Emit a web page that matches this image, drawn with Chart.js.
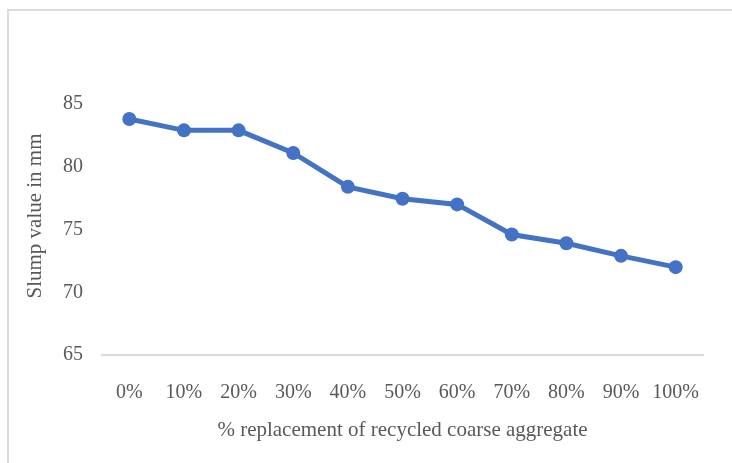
<!DOCTYPE html>
<html>
<head>
<meta charset="utf-8">
<script src="https://cdn.jsdelivr.net/npm/chart.js@4"></script>
<style>
  html, body { margin: 0; padding: 0; background: #fff; overflow: hidden; }
  #wrap { position: relative; width: 732px; height: 463px; }
  #frame { position: absolute; left: 7px; top: 9px; width: 800px; height: 500px;
           border-top: 2px solid #dcdcdc; border-left: 2px solid #dcdcdc; }
  canvas { position: absolute; left: 0; top: 0; }
</style>
</head>
<body>
<div id="wrap">
  <div id="frame"></div>
  <canvas id="slumpChart" width="732" height="463"></canvas>
</div>
<script>
// data
const categories = ["0%", "10%", "20%", "30%", "40%", "50%", "60%", "70%", "80%", "90%", "100%"];
const slumpValues = [83.8, 82.9, 82.9, 81.1, 78.4, 77.45, 77.0, 74.6, 73.9, 72.9, 72.0];
const yTicks = [65, 70, 75, 80, 85];
const yTitle = 'Slump value in mm';
const xTitle = '% replacement of recycled coarse aggregate';

const textGray = '#595959';
const family = '"Liberation Serif", "Times New Roman", serif';
const tickFont = { family: family, size: 20 };
const titleFont = { family: family, size: 21 };

// y title sits a little above the middle of the axis, as in Excel
const yTitlePlugin = {
  id: 'yTitle',
  afterDraw: function (chart) {
    const ctx = chart.ctx;
    ctx.save();
    ctx.translate(35, 216);
    ctx.rotate(-Math.PI / 2);
    ctx.font = titleFont.size + 'px ' + family;
    ctx.fillStyle = textGray;
    ctx.textAlign = 'center';
    ctx.textBaseline = 'middle';
    ctx.fillText(yTitle, 0, 0);
    ctx.restore();
  }
};

new Chart(document.getElementById('slumpChart').getContext('2d'), {
  type: 'line',
  data: {
    labels: categories,
    datasets: [{
      data: slumpValues,
      borderColor: '#4472C4',
      backgroundColor: '#4472C4',
      borderWidth: 5,
      tension: 0,
      pointRadius: 7,
      pointBorderWidth: 0,
      pointBackgroundColor: '#4472C4'
    }]
  },
  options: {
    responsive: false,
    animation: false,
    devicePixelRatio: 1,
    layout: { padding: { top: 104, right: 29, bottom: 0, left: 0 } },
    plugins: { legend: { display: false }, tooltip: { enabled: false } },
    scales: {
      x: {
        offset: true,
        grid: { display: false, drawTicks: false },
        border: { display: true, color: '#d9d9d9', width: 2 },
        ticks: { color: textGray, font: tickFont, padding: 26, maxRotation: 0, autoSkip: false },
        title: { display: true, text: xTitle, color: textGray, font: titleFont,
                 padding: { top: 0, bottom: 20 } },
        afterFit: function (s) { s.height = 108; }
      },
      y: {
        min: yTicks[0],
        max: yTicks[yTicks.length - 1],
        grid: { display: false, drawTicks: false },
        border: { display: false },
        afterBuildTicks: function (s) { s.ticks = yTicks.map(v => ({ value: v })); },
        ticks: { color: textGray, font: tickFont, padding: 19 },
        afterFit: function (s) { s.width = 102; }
      }
    }
  },
  plugins: [yTitlePlugin]
});
</script>
</body>
</html>
